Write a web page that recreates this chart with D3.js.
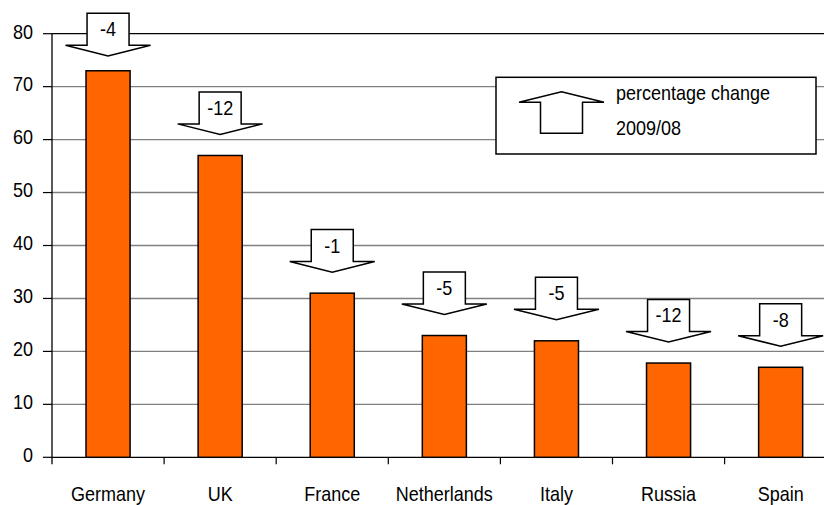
<!DOCTYPE html>
<html>
<head>
<meta charset="utf-8">
<script src="https://cdn.jsdelivr.net/npm/d3@7"></script>
<style>
  html, body { margin: 0; padding: 0; background: #fff; }
  svg { display: block; }
  text { font-family: "Liberation Sans", Arial, sans-serif; fill: #000; }
</style>
</head>
<body>
<svg id="chart" width="824" height="505"></svg>
<script>
// Countries, values and 2009/08 percentage change
const countries = ["Germany", "UK", "France", "Netherlands", "Italy", "Russia", "Spain"];
const values = [73, 57, 31, 23, 22, 17.8, 17];
const changes = [-4, -12, -1, -5, -5, -12, -8];
const yTicks = [0, 10, 20, 30, 40, 50, 60, 70, 80];
const legendLines = ["percentage change", "2009/08"];

const W = 824, H = 505;
const plotLeft = 52, plotTop = 33.7, plotBottom = 457.3;
const step = 112.1;

const svg = d3.select("#chart");

const x = d3.scaleBand()
  .domain(countries)
  .range([plotLeft, plotLeft + step * countries.length])
  .paddingInner(0.607)
  .paddingOuter(0.3035);

const y = d3.scaleLinear().domain([0, 80]).range([plotBottom, plotTop]);

const FS = 20, SX = 0.9; // condensed label type
function label(g, tx, ty, str, anchor) {
  return g.append("text")
    .attr("transform", `translate(${tx},${ty}) scale(${SX},1)`)
    .attr("text-anchor", anchor || "middle")
    .style("font-size", FS + "px")
    .text(str);
}

// Gridlines
const grid = svg.append("g");
yTicks.filter(d => d > 0).forEach(d => {
  grid.append("line")
    .attr("x1", plotLeft).attr("x2", W)
    .attr("y1", y(d)).attr("y2", y(d))
    .attr("stroke", d === 80 ? "#000" : "#808080")
    .attr("stroke-width", d === 80 ? 1.2 : 1.4);
});

// Y axis
const yAxis = svg.append("g");
yAxis.append("line")
  .attr("x1", plotLeft).attr("x2", plotLeft)
  .attr("y1", plotTop).attr("y2", plotBottom + 7)
  .attr("stroke", "#000").attr("stroke-width", 1.3);
yTicks.forEach(d => {
  yAxis.append("line")
    .attr("x1", plotLeft - 9).attr("x2", plotLeft)
    .attr("y1", y(d)).attr("y2", y(d))
    .attr("stroke", "#000").attr("stroke-width", 1.2);
  label(yAxis, 33, y(d) + 4.8, String(d), "end");
});

// X axis
const xAxis = svg.append("g");
xAxis.append("line")
  .attr("x1", plotLeft).attr("x2", W)
  .attr("y1", plotBottom).attr("y2", plotBottom)
  .attr("stroke", "#000").attr("stroke-width", 1.3);
countries.forEach((c, i) => {
  const bx = plotLeft + step * (i + 1);
  xAxis.append("line")
    .attr("x1", bx).attr("x2", bx)
    .attr("y1", plotBottom).attr("y2", plotBottom + 7)
    .attr("stroke", "#000").attr("stroke-width", 1.2);
  label(xAxis, x(c) + x.bandwidth() / 2, 500.7, c);
});

// Bars
svg.append("g").selectAll("rect")
  .data(countries)
  .join("rect")
  .attr("x", c => x(c))
  .attr("y", (c, i) => y(values[i]))
  .attr("width", x.bandwidth())
  .attr("height", (c, i) => plotBottom - y(values[i]))
  .attr("fill", "#FF6600")
  .attr("stroke", "#000")
  .attr("stroke-width", 1.5);

// Block arrow path (down or up) with tip at (cx, tipY)
const AB = { bw: 42, bh: 32, hw: 85, hh: 10.6 };
function downArrow(cx, tipY) {
  const t = tipY - AB.hh - AB.bh, s = tipY - AB.hh;
  return `M${cx - AB.bw / 2},${t}H${cx + AB.bw / 2}V${s}H${cx + AB.hw / 2}L${cx},${tipY}L${cx - AB.hw / 2},${s}H${cx - AB.bw / 2}Z`;
}
function upArrow(cx, tipY) {
  const s = tipY + AB.hh, b = tipY + AB.hh + 31;
  return `M${cx},${tipY}L${cx + AB.hw / 2},${s}H${cx + AB.bw / 2}V${b}H${cx - AB.bw / 2}V${s}H${cx - AB.hw / 2}Z`;
}

// Change callouts above each bar, kept inside the top of the chart
const callouts = svg.append("g");
countries.forEach((c, i) => {
  const cx = x(c) + x.bandwidth() / 2;
  const minTip = 13.3 + AB.bh + AB.hh;
  const tip = Math.max(y(values[i]) - 21, minTip);
  callouts.append("path")
    .attr("d", downArrow(cx, tip))
    .attr("fill", "#fff")
    .attr("stroke", "#000")
    .attr("stroke-width", 1.5)
    .attr("stroke-linejoin", "miter");
  label(callouts, cx, tip - AB.hh - AB.bh + 23, String(changes[i]));
});

// Legend
const lg = svg.append("g");
lg.append("rect")
  .attr("x", 496).attr("y", 77.3)
  .attr("width", 320).attr("height", 76.7)
  .attr("fill", "#fff").attr("stroke", "#000").attr("stroke-width", 1.5);
lg.append("path")
  .attr("d", upArrow(561.5, 91.7))
  .attr("fill", "#fff").attr("stroke", "#000").attr("stroke-width", 1.5);
legendLines.forEach((t, i) => label(lg, 616, 100 + i * 35, t, "start"));
</script>
</body>
</html>
